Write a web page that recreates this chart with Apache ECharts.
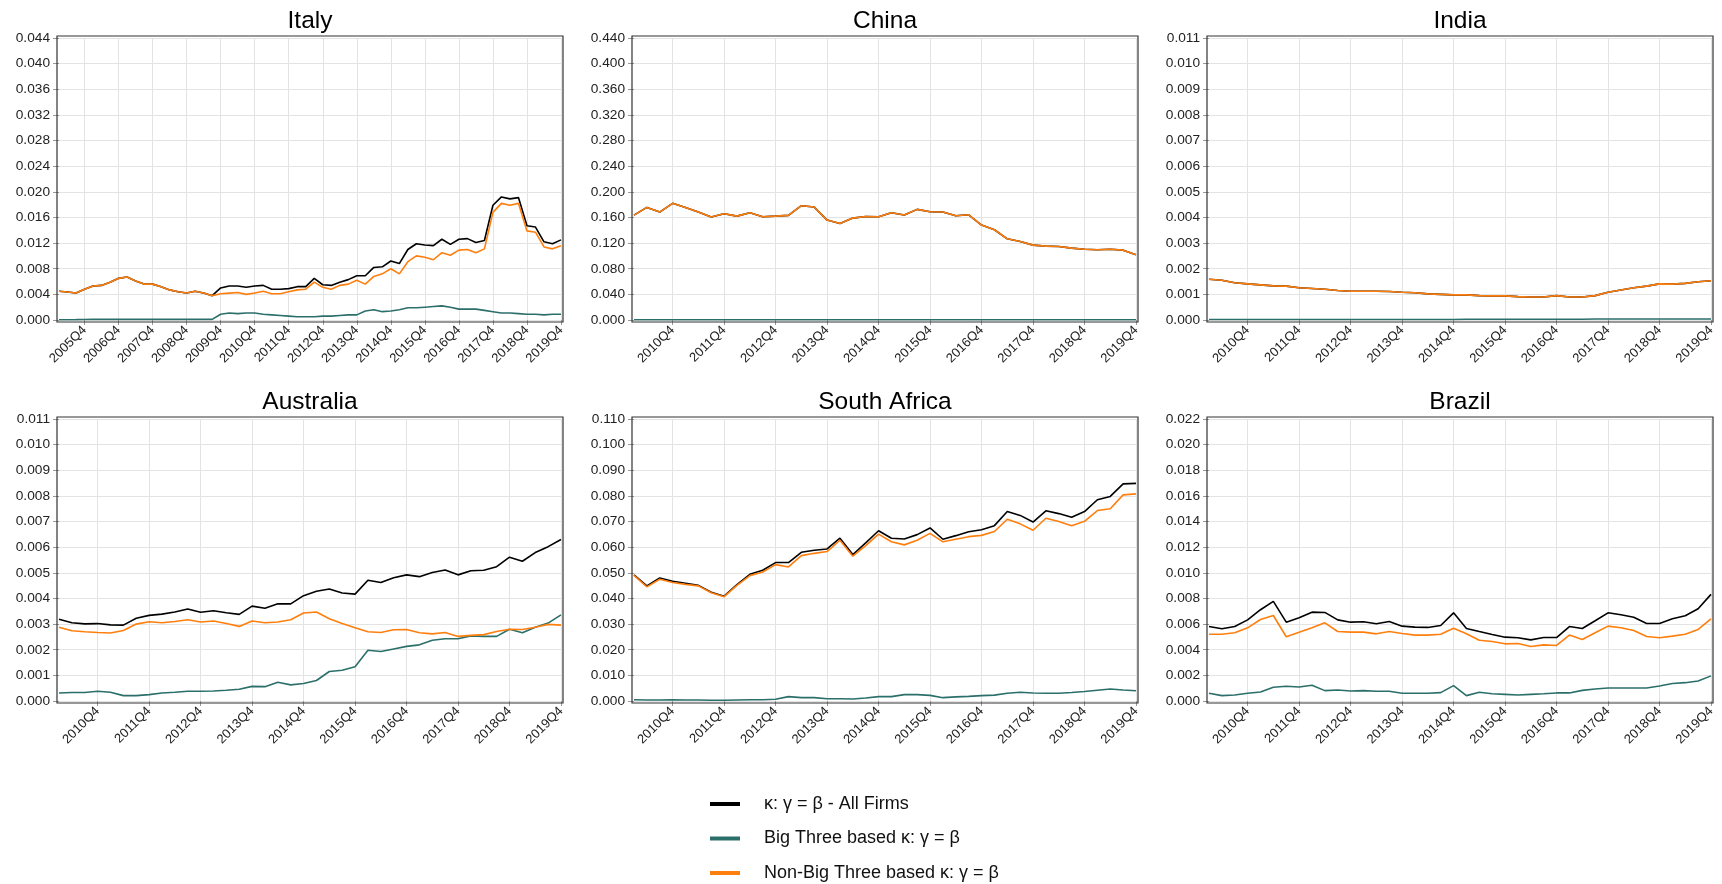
<!DOCTYPE html>
<html><head><meta charset="utf-8">
<script src="https://cdn.jsdelivr.net/npm/echarts@6/dist/echarts.min.js"></script>
<style>html,body{margin:0;padding:0;background:#fff}#c{width:1722px;height:884px}</style>
</head><body><div id="c"></div>
<script>
function quarterLabels(y0, y1){ const a=[]; for(let y=y0;y<=y1;y++) for(let q=1;q<=4;q++) a.push(y+'Q'+q); return a; }
const italyQuarters = quarterLabels(2005, 2019);
const quarters2010 = quarterLabels(2010, 2019);

const seriesNames = ['κ: γ = β - All Firms', 'Big Three based κ: γ = β', 'Non-Big Three based κ: γ = β'];
const countries = ['Italy', 'China', 'India', 'Australia', 'South Africa', 'Brazil'];

// Italy (2005Q1-2019Q4)
const italyAll = [0.00448,0.00438,0.00422,0.0048,0.0053,0.0054,0.0059,0.0065,0.0067,0.0061,0.0056,0.0056,0.0052,0.0047,0.0044,0.0042,0.0045,0.0042,0.0038,
  0.0050,0.0053,0.0053,0.0051,0.0053,0.0054,0.0048,0.0048,0.0049,0.0052,0.0052,0.0065,0.0055,0.0054,0.0059,0.0063,0.0069,0.0069,0.0082,0.0083,0.0092,
  0.0088,0.0110,0.0119,0.0117,0.0116,0.0126,0.0118,0.0126,0.0127,0.0121,0.0124,0.0179,0.0192,0.0189,0.0191,0.0147,0.0145,0.0122,0.0119,0.0125];
const italyBig3 = [0.00005,0.00005,0.00006,0.00008,0.0001,0.0001,0.0001,0.0001,0.0001,0.0001,0.0001,0.0001,0.0001,0.0001,0.0001,0.0001,0.0001,0.0001,0.0001,
  0.0009,0.0011,0.0010,0.0011,0.0011,0.0009,0.0008,0.0007,0.0006,0.0005,0.0005,0.0005,0.0006,0.0006,0.0007,0.0008,0.0008,0.0014,0.0016,0.0013,0.0014,
  0.0016,0.0019,0.0019,0.0020,0.0021,0.0022,0.0020,0.0017,0.0017,0.0017,0.0015,0.0013,0.0011,0.0011,0.0010,0.0009,0.0009,0.0008,0.0009,0.0009];
const italyNonBig3 = [0.00448,0.00438,0.00422,0.0048,0.0053,0.0054,0.0059,0.0065,0.0067,0.0061,0.0056,0.0056,0.0052,0.0047,0.0044,0.0042,0.0045,0.0042,0.0038,
  0.0041,0.0042,0.0043,0.0040,0.0042,0.0045,0.0041,0.0041,0.0044,0.0047,0.0048,0.0059,0.0051,0.0048,0.0054,0.0056,0.0062,0.0056,0.0068,0.0072,0.0080,
  0.0072,0.0091,0.0100,0.0098,0.0094,0.0105,0.0101,0.0109,0.0110,0.0105,0.0111,0.0168,0.0182,0.0179,0.0182,0.0139,0.0137,0.0114,0.0111,0.0116];

// China (2010Q1-2019Q4)
const chinaAll = [0.1637,0.1757,0.1684,0.1820,0.1757,0.1684,0.1606,0.1658,0.1621,0.1674,0.1611,0.1621,0.1632,0.1783,0.1762,0.1559,0.1507,0.1590,0.1616,0.1611,
  0.1674,0.1637,0.1726,0.1689,0.1684,0.1627,0.1642,0.1481,0.1408,0.1267,0.1225,0.1168,0.1152,0.1147,0.1121,0.1105,0.1095,0.1105,0.1090,0.1017];
const chinaBig3 = [0.0003,0.0003,0.0003,0.0003,0.0003,0.0003,0.0003,0.0003,0.0003,0.0003,0.0003,0.0003,0.0003,0.0003,0.0003,0.0003,0.0003,0.0003,0.0003,0.0003,
  0.0003,0.0003,0.0003,0.0003,0.0003,0.0003,0.0003,0.0003,0.0003,0.0003,0.0003,0.0003,0.0003,0.0003,0.0003,0.0003,0.0003,0.0003,0.0003,0.0003];
const chinaNonBig3 = [0.1637,0.1757,0.1684,0.1820,0.1757,0.1684,0.1606,0.1658,0.1621,0.1674,0.1611,0.1621,0.1632,0.1783,0.1762,0.1559,0.1507,0.1590,0.1616,0.1611,
  0.1674,0.1637,0.1726,0.1689,0.1684,0.1627,0.1642,0.1481,0.1408,0.1267,0.1225,0.1168,0.1152,0.1147,0.1121,0.1105,0.1095,0.1105,0.1090,0.1017];

// India
const indiaAll = [0.00159,0.00155,0.00145,0.00141,0.00137,0.00133,0.00132,0.00126,0.00123,0.00120,0.00115,0.00112,0.00112,0.00112,0.00111,0.00108,0.00106,0.00102,0.00100,0.00098,
  0.00098,0.00095,0.00094,0.00094,0.00091,0.00090,0.00090,0.00095,0.00090,0.00090,0.00095,0.00108,0.00117,0.00126,0.00132,0.00141,0.00140,0.00143,0.00149,0.00153];
const indiaBig3 = [0.00002,0.00002,0.00002,0.00002,0.00002,0.00002,0.00002,0.00002,0.00002,0.00002,0.00002,0.00002,0.00002,0.00002,0.00002,0.00002,0.00002,0.00002,0.00002,0.00002,
  0.00003,0.00003,0.00003,0.00003,0.00003,0.00003,0.00003,0.00003,0.00003,0.00003,0.00004,0.00004,0.00004,0.00004,0.00004,0.00004,0.00004,0.00004,0.00004,0.00004];
const indiaNonBig3 = [0.00159,0.00155,0.00145,0.00141,0.00137,0.00133,0.00132,0.00126,0.00123,0.00120,0.00115,0.00112,0.00112,0.00112,0.00111,0.00108,0.00106,0.00102,0.00100,0.00098,
  0.00098,0.00095,0.00094,0.00094,0.00091,0.00090,0.00090,0.00095,0.00090,0.00090,0.00095,0.00108,0.00117,0.00126,0.00132,0.00141,0.00140,0.00143,0.00149,0.00153];

// Australia
const australiaAll = [0.00319,0.00305,0.00301,0.00302,0.00297,0.00296,0.00323,0.00334,0.00339,0.00347,0.00359,0.00346,0.00352,0.00344,0.00338,0.00370,0.00362,0.00379,0.00379,0.00411,
  0.00428,0.00437,0.00421,0.00417,0.00471,0.00462,0.00481,0.00492,0.00485,0.00501,0.00511,0.00492,0.00508,0.00510,0.00524,0.00561,0.00545,0.00579,0.00602,0.00630];
const australiaBig3 = [0.00031,0.00033,0.00033,0.00038,0.00034,0.00021,0.00021,0.00025,0.00031,0.00034,0.00038,0.00038,0.00039,0.00042,0.00046,0.00057,0.00056,0.00073,0.00063,0.00068,
  0.00080,0.00115,0.00120,0.00134,0.00198,0.00193,0.00203,0.00213,0.00219,0.00237,0.00243,0.00243,0.00254,0.00252,0.00252,0.00280,0.00266,0.00288,0.00304,0.00336];
const australiaNonBig3 = [0.00288,0.00274,0.00270,0.00267,0.00265,0.00275,0.00300,0.00309,0.00305,0.00310,0.00317,0.00308,0.00312,0.00302,0.00291,0.00312,0.00305,0.00308,0.00317,0.00343,
  0.00347,0.00321,0.00302,0.00286,0.00270,0.00267,0.00278,0.00279,0.00266,0.00262,0.00267,0.00252,0.00256,0.00259,0.00271,0.00280,0.00279,0.00288,0.00299,0.00296];

// South Africa
const southAfricaAll = [0.0492,0.0449,0.0480,0.0467,0.0459,0.0451,0.0424,0.0409,0.0454,0.0494,0.0510,0.0540,0.0540,0.0580,0.0588,0.0593,0.0635,0.0571,0.0617,0.0664,
  0.0635,0.0632,0.0649,0.0675,0.0631,0.0645,0.0660,0.0668,0.0684,0.0739,0.0724,0.0698,0.0742,0.0731,0.0717,0.0739,0.0785,0.0798,0.0847,0.0849];
const southAfricaBig3 = [0.0005,0.0004,0.0004,0.0005,0.0004,0.0004,0.0003,0.0003,0.0004,0.0005,0.0005,0.0007,0.0017,0.0013,0.0013,0.0009,0.0009,0.0008,0.0012,0.0017,
  0.0017,0.0025,0.0025,0.0022,0.0013,0.0016,0.0018,0.0021,0.0023,0.0030,0.0034,0.0031,0.0030,0.0030,0.0033,0.0037,0.0042,0.0047,0.0043,0.0040];
const southAfricaNonBig3 = [0.0490,0.0445,0.0475,0.0462,0.0455,0.0449,0.0422,0.0407,0.0451,0.0489,0.0503,0.0532,0.0523,0.0567,0.0576,0.0583,0.0627,0.0565,0.0606,0.0651,
  0.0621,0.0609,0.0627,0.0654,0.0621,0.0631,0.0641,0.0646,0.0661,0.0709,0.0691,0.0666,0.0713,0.0700,0.0684,0.0701,0.0743,0.0750,0.0804,0.0808];

// Brazil
const brazilAll = [0.00581,0.00563,0.00581,0.00633,0.00712,0.00777,0.00615,0.00649,0.00693,0.00691,0.00633,0.00615,0.00618,0.00602,0.00620,0.00584,0.00576,0.00574,0.00589,0.00688,
  0.00566,0.00542,0.00519,0.00498,0.00493,0.00477,0.00495,0.00495,0.00581,0.00566,0.00626,0.00688,0.00673,0.00654,0.00605,0.00605,0.00641,0.00665,0.00720,0.00832];
const brazilBig3 = [0.00060,0.00042,0.00047,0.00060,0.00070,0.00107,0.00115,0.00109,0.00123,0.00081,0.00086,0.00078,0.00081,0.00076,0.00076,0.00060,0.00060,0.00060,0.00065,0.00120,
  0.00042,0.00068,0.00057,0.00052,0.00047,0.00052,0.00057,0.00063,0.00063,0.00083,0.00094,0.00102,0.00102,0.00102,0.00102,0.00117,0.00136,0.00143,0.00156,0.00196];
const brazilNonBig3 = [0.00521,0.00521,0.00532,0.00571,0.00636,0.00667,0.00501,0.00537,0.00571,0.00610,0.00542,0.00537,0.00537,0.00524,0.00542,0.00527,0.00514,0.00514,0.00521,0.00568,
  0.00524,0.00474,0.00464,0.00446,0.00448,0.00425,0.00438,0.00433,0.00514,0.00480,0.00532,0.00584,0.00571,0.00550,0.00503,0.00493,0.00506,0.00521,0.00558,0.00641];

// y axis ranges
const yMax = [0.044, 0.44, 0.011, 0.011, 0.11, 0.022];
const yStep = [0.004, 0.04, 0.001, 0.001, 0.01, 0.002];

const panelData = [
  [italyQuarters, italyAll, italyBig3, italyNonBig3],
  [quarters2010, chinaAll, chinaBig3, chinaNonBig3],
  [quarters2010, indiaAll, indiaBig3, indiaNonBig3],
  [quarters2010, australiaAll, australiaBig3, australiaNonBig3],
  [quarters2010, southAfricaAll, southAfricaBig3, southAfricaNonBig3],
  [quarters2010, brazilAll, brazilBig3, brazilNonBig3]
];

const colors = ['#000000', '#2b6f6a', '#ff7f0e'];
const FONT = 'Liberation Sans, Arial, sans-serif';
const frameLeft = [57, 632, 1207];
const frameTop = [36, 417];
const frameW = 506, frameH = 286;

const chart = echarts.init(document.getElementById('c'), null, {renderer: 'canvas'});
const grids = [], xAxes = [], yAxes = [], series = [], titles = [], graphics = [];
const isQ4 = (i, v) => String(v).endsWith('Q4');

for (let p = 0; p < 6; p++) {
  const col = p % 3, row = Math.floor(p / 3);
  const fl = frameLeft[col], ft = frameTop[row];
  grids.push({left: fl + 2, top: ft + 2, width: frameW - 4, height: frameH - 4, containLabel: false});
  graphics.push({type: 'rect', shape: {x: fl, y: ft, width: frameW, height: frameH}, style: {fill: null, stroke: '#333', lineWidth: 1.2}, z: 10, silent: true});
  titles.push({text: countries[p], left: fl + frameW / 2, top: ft - 27, textAlign: 'center', padding: 0,
    textStyle: {fontFamily: FONT, fontSize: 24.5, fontWeight: 'normal', color: '#000'}});
  const [cats, a, b, c] = panelData[p];
  xAxes.push({type: 'category', gridIndex: p, data: cats, boundaryGap: false,
    axisLine: {show: false},
    axisTick: {show: true, interval: isQ4, length: 5, lineStyle: {color: '#999'}},
    axisLabel: {interval: isQ4, rotate: 45, margin: 8, fontFamily: FONT, fontSize: 13, color: '#222'},
    splitLine: {show: true, interval: isQ4, lineStyle: {color: '#e3e3e3', width: 1}}
  });
  yAxes.push({type: 'value', gridIndex: p, min: 0, max: yMax[p], interval: yStep[p],
    axisLine: {show: false},
    axisTick: {show: true, length: 6, lineStyle: {color: '#999'}},
    axisLabel: {margin: 9, fontFamily: FONT, fontSize: 13.7, color: '#222', formatter: v => v.toFixed(3)},
    splitLine: {show: true, lineStyle: {color: '#e3e3e3', width: 1}}
  });
  [a, b, c].forEach((d, k) => {
    series.push({type: 'line', name: seriesNames[k], xAxisIndex: p, yAxisIndex: p, data: d,
      symbol: 'none', showSymbol: false, animation: false, silent: true,
      lineStyle: {color: colors[k], width: 1.6}, itemStyle: {color: colors[k]}, z: 2 + k});
  });
}

chart.setOption({
  animation: false,
  backgroundColor: '#fff',
  title: titles,
  grid: grids,
  xAxis: xAxes,
  yAxis: yAxes,
  series: series,
  graphic: graphics,
  legend: {
    orient: 'vertical', left: 710, top: 794, padding: 0, height: 90,
    data: seriesNames, icon: 'rect', itemWidth: 30, itemHeight: 4, itemGap: 14.5,
    textStyle: {fontFamily: FONT, fontSize: 18, color: '#111', lineHeight: 20, padding: [0, 0, 0, 19]},
    selectedMode: false
  }
});
</script>
</body></html>
